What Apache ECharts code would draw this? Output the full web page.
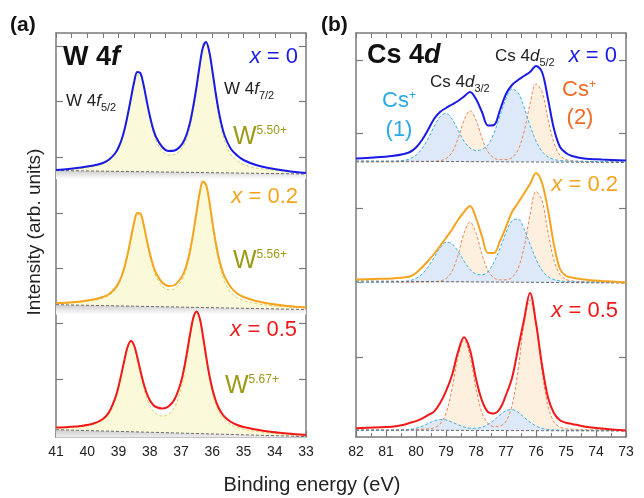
<!DOCTYPE html>
<html><head><meta charset="utf-8">
<script src="https://cdn.jsdelivr.net/npm/echarts@6/dist/echarts.min.js"></script>
<style>html,body{margin:0;padding:0;background:#fff}#c{width:644px;height:498px}</style>
</head><body><div id="c"></div>
<script>
// ---------- W 4f panel (a) ----------
const W4f_energy = [41.0, 40.6, 40.2, 39.8, 39.5, 39.3, 39.1, 39.0, 38.9, 38.8, 38.7, 38.6, 38.5, 38.4, 38.3, 38.2, 38.1, 38.0, 37.9, 37.8, 37.6, 37.4, 37.2, 37.0, 36.9, 36.8, 36.7, 36.6, 36.5, 36.4, 36.3, 36.2, 36.1, 36.0, 35.9, 35.8, 35.7, 35.6, 35.4, 35.2, 35.0, 34.6, 34.2, 33.6, 33.0];
const W4f_x0 = [267, 268, 269.5, 271.5, 274, 277.5, 284, 289.5, 297.5, 308.5, 323, 339, 355, 365, 364, 352.5, 336.5, 321.5, 309, 300, 290, 286, 286.5, 291.5, 296.5, 304.5, 316, 332, 351, 372, 389.5, 395, 386, 367, 346, 327, 312, 301, 288, 281.5, 277, 272, 269, 266, 264];
const W4f_x0_fit = [267, 267.5, 268.5, 270.5, 273, 276.5, 283, 288.5, 296, 306.5, 320.5, 336.5, 352, 362, 361.5, 350, 334, 319, 306, 296.5, 286, 282, 282.5, 287.5, 292.5, 300, 311.5, 327, 346, 370, 388, 394, 385, 365.5, 344, 321.5, 306.5, 295.5, 282, 276, 272.5, 269, 267.5, 265.5, 263.5];
const W4f_x02 = [134, 134.5, 135.5, 137.5, 140, 143, 149, 154, 161, 171, 184, 199.5, 214.5, 224, 223.5, 213, 198, 184, 172.5, 164, 154.5, 151, 152, 159, 165, 174.5, 188, 205.5, 225.5, 244.5, 255.5, 252.5, 237, 216, 196.5, 180.5, 168.5, 160, 149.5, 143.5, 140, 136, 133.5, 131, 129.5];
const W4f_x02_fit = [133.5, 134, 135.1, 136.6, 138.8, 141.6, 147.6, 152.4, 159.6, 169.7, 182.8, 198.2, 213.1, 222.4, 221.7, 211.1, 195.9, 181.5, 169.5, 160.6, 150.7, 147.2, 148.4, 155.3, 161.6, 171.3, 185.0, 202.8, 223.1, 242.7, 254.0, 250.6, 234.8, 213.3, 193.1, 176.7, 164.1, 155.0, 144.4, 139.3, 136.5, 133.5, 131.7, 130.2, 129.2];
const W4f_x05 = [9.5, 10, 11, 13.5, 18, 25, 39.5, 50.5, 64, 78.5, 91, 96, 91.5, 80, 66.5, 54, 44, 37, 32.5, 30, 28.5, 30.5, 38, 55, 69, 86, 104.5, 120, 125.5, 118.5, 101.5, 81.5, 63, 48.5, 37.5, 29.5, 24, 20, 15, 12, 10, 7.5, 5.5, 3.5, 2];
const W4f_x05_fit = [9.35, 9.8, 10.7, 12.9, 16.9, 23.4, 37.3, 48.2, 62.1, 77.3, 90.4, 95.9, 90.7, 77.9, 63.1, 49.5, 39.0, 31.5, 26.4, 23.3, 20.9, 22.8, 30.2, 47.9, 62.3, 80.7, 101.0, 118.4, 125.4, 117.9, 99.9, 79.1, 60.2, 45.2, 34.0, 26.0, 20.5, 16.8, 12.2, 9.7, 7.8, 5.6, 4.2, 2.8, 1.8];
const W4f_bgEnergy = [41, 33];
const W4f_bg_x0 = [266.5, 263];
const W4f_bg_x02 = [132.3, 127.5];
const W4f_bg_x05 = [7.3, 0.5];
const W4f_yTicks = [58, 114, 169, 224, 280, 336, 391];

// ---------- Cs 4d panel (b) ----------
const Cs4d_energy = [82.0, 81.4, 80.8, 80.4, 80.2, 80.0, 79.8, 79.6, 79.4, 79.2, 79.0, 78.8, 78.6, 78.4, 78.2, 78.0, 77.8, 77.6, 77.4, 77.2, 77.0, 76.8, 76.6, 76.4, 76.2, 76.0, 75.8, 75.6, 75.4, 75.2, 75.0, 74.8, 74.4, 73.8, 73.0];
const Cs4d_x0 = [278.5, 279.5, 281, 283, 285, 289.5, 297, 307, 318, 325, 329, 332.5, 336, 340.5, 345, 338, 325, 311.5, 312, 327, 343, 352, 357, 361, 365, 371, 365, 338, 308, 290, 284, 281, 278.5, 277.5, 276.5];
const Cs4d_x0_cs1 = [275.2, 275.4, 275.7, 276.6, 278.3, 281.8, 288.4, 298.2, 310.2, 320.2, 323.6, 318.0, 307.1, 295.8, 289, 286.5, 287.5, 292.3, 304.1, 321.2, 338.4, 348.0, 344.4, 330.0, 311.5, 296.0, 285.6, 280.1, 277.5, 276.5, 276.0, 275.8, 275.6, 275.4, 275.3];
const Cs4d_x0_cs2 = [275, 275, 275, 275.3, 275.3, 275.3, 275.4, 275.5, 275.7, 276.3, 278.3, 284.5, 298.3, 316.6, 326.4, 317.0, 298.8, 285.1, 279.0, 277.3, 277.4, 279.4, 286.9, 304.9, 332.9, 353.0, 345.4, 318.1, 294.0, 281.6, 277.4, 276.2, 275.7, 275.4, 275.3];
const Cs4d_x02 = [157.5, 158, 158.5, 159.5, 160.5, 164, 169.5, 176, 183, 191, 199, 207.5, 217, 225, 231, 219, 200.5, 184, 184, 196, 210, 225, 234, 243.5, 253, 264, 254, 227, 192, 168, 161, 159.5, 157.5, 156, 154.5];
const Cs4d_x02_cs1 = [154.7, 154.8, 155.0, 155.5, 156.4, 158.7, 162.8, 169.9, 179.4, 189.0, 194.7, 193.3, 185.7, 176.0, 167.7, 162.9, 162.2, 165.5, 174.8, 188.7, 204.5, 216.3, 218.0, 208.3, 192.8, 177.9, 166.8, 160.5, 157.4, 156.1, 155.5, 155.3, 155.0, 154.8, 154.7];
const Cs4d_x02_cs2 = [154.5, 154.5, 154.8, 154.8, 154.8, 154.9, 155.0, 155.1, 155.3, 156.0, 158.3, 165.7, 181.9, 203.8, 215.0, 203.9, 182.5, 166.4, 159.2, 157.1, 157.2, 159.6, 168.3, 189.4, 221.9, 245.5, 236.7, 204.8, 176.8, 162.4, 157.6, 156.1, 155.3, 155.0, 154.8];
const Cs4d_x05 = [8.7, 9.5, 10.3, 12.3, 14.1, 15.9, 18.4, 21.9, 25.4, 33.7, 45.8, 61.7, 85, 99.7, 87, 58.2, 36.4, 25, 23.5, 28.5, 42, 59, 88, 117, 144, 114, 72, 39.5, 23.8, 16.7, 14.3, 13.1, 10.6, 8.5, 6.5];
const Cs4d_x05_cs1 = [6.5, 6.6, 6.7, 7.05, 7.6, 8.8, 10.7, 13.4, 16.0, 17.4, 17.1, 14.9, 12.3, 10.1, 8.8, 8.7, 9.8, 12.6, 16.9, 22.2, 26.4, 27.4, 24.8, 19.9, 14.8, 11.0, 8.7, 7.6, 7.05, 6.9, 6.8, 6.7, 6.6, 6.55, 6.5];
const Cs4d_x05_cs2 = [6.9, 7.0, 7.0, 7.3, 7.5, 7.6, 7.8, 8.1, 9.2, 12.8, 23.8, 48.0, 80.5, 97.1, 80.6, 48.3, 24.3, 13.6, 10.5, 11.0, 15.7, 31.5, 66.4, 113.0, 137.0, 112.9, 66.1, 31.0, 14.9, 9.9, 8.2, 7.8, 7.3, 7.1, 6.9];
const Cs4d_bgEnergy = [82, 73];
const Cs4d_bg_x0 = [276, 274.5];
const Cs4d_bg_x02 = [156, 154];
const Cs4d_bg_x05 = [7, 6];
const Cs4d_base = [275, 154.5, 6.5];
const Cs4d_yTicks = [80, 155, 229, 304, 377];

// ---------- styling ----------
const FONT = '"Liberation Sans", Arial, sans-serif';
const AX = '#7a7a7a';
const BLUE = '#1a1ae6', ORANGE = '#f5a41f', RED = '#f01818', OLIVE = '#9c9a17';
const SKY = '#29a9e6', CSORANGE = '#f26a26';

function pairs(xs, ys) { return xs.map((x, i) => [x, ys[i]]); }

const series = [];
function addLine(panel, data, opt) {
  series.push(Object.assign({
    type: 'line', xAxisIndex: panel * 2, yAxisIndex: panel * 2, data,
    symbol: 'none', showSymbol: false, smooth: 0.35, silent: true, animation: false
  }, opt));
}
const grayGrad = { type: 'linear', x: 0, y: 0, x2: 0, y2: 1,
  colorStops: [{ offset: 0, color: '#cdcdcd' }, { offset: 1, color: '#ffffff' }] };

// panel (a)
const wSpectra = [
  [W4f_x0, W4f_x0_fit, W4f_bg_x0, BLUE],
  [W4f_x02, W4f_x02_fit, W4f_bg_x02, ORANGE],
  [W4f_x05, W4f_x05_fit, W4f_bg_x05, RED]
];
wSpectra.forEach(s => addLine(0, pairs(W4f_energy, s[1]), {
  lineStyle: { color: '#d8d060', width: 1, type: [3, 2] },
  areaStyle: { color: '#fafadb', opacity: 1, origin: s[2][1] }
}));
wSpectra.forEach(s => addLine(0, pairs(W4f_bgEnergy, s[2]), {
  smooth: false, lineStyle: { color: '#6a6a6a', width: 1, type: [3, 2] },
  areaStyle: { color: grayGrad, opacity: 1, origin: s[2][1] - 5 }
}));
wSpectra.forEach(s => addLine(0, pairs(W4f_energy, s[0]), {
  lineStyle: { color: s[3], width: 2 }
}));

// panel (b)
const cSpectra = [
  [Cs4d_x0, Cs4d_x0_cs1, Cs4d_x0_cs2, Cs4d_bg_x0, BLUE, Cs4d_base[0]],
  [Cs4d_x02, Cs4d_x02_cs1, Cs4d_x02_cs2, Cs4d_bg_x02, ORANGE, Cs4d_base[1]],
  [Cs4d_x05, Cs4d_x05_cs1, Cs4d_x05_cs2, Cs4d_bg_x05, RED, Cs4d_base[2]]
];
cSpectra.forEach(s => addLine(1, pairs(Cs4d_energy, s[2]), {
  lineStyle: { color: '#ef8550', width: 1, type: [3, 2] },
  areaStyle: { color: '#fdf0df', opacity: 1, origin: s[5] }
}));
cSpectra.forEach(s => addLine(1, pairs(Cs4d_energy, s[1]), {
  lineStyle: { color: '#3cb0e8', width: 1, type: [3, 2] },
  areaStyle: { color: '#dde9f8', opacity: 1, origin: s[5] }
}));
cSpectra.forEach(s => addLine(1, pairs(Cs4d_bgEnergy, s[3]), {
  smooth: false, lineStyle: { color: '#6a6a6a', width: 1, type: [3, 2] }
}));
cSpectra.forEach(s => addLine(1, pairs(Cs4d_energy, s[0]), {
  lineStyle: { color: s[4], width: 2 }
}));

function xBottom(grid, min, max) {
  return { gridIndex: grid, type: 'value', min, max, inverse: true, interval: 1, position: 'bottom',
    axisLine: { show: true, onZero: false, lineStyle: { color: AX, width: 1.5 } },
    axisTick: { show: true, inside: true, length: 6, lineStyle: { color: AX, width: 1.2 } },
    minorTick: { show: true, splitNumber: 2, length: 4, lineStyle: { color: AX, width: 1 } },
    axisLabel: { show: true, color: '#222', fontSize: 14, fontFamily: FONT, margin: 8, showMinLabel: true, showMaxLabel: true },
    splitLine: { show: false }, minorSplitLine: { show: false } };
}
function xTop(grid, min, max) {
  return { gridIndex: grid, type: 'value', min, max, inverse: true, interval: 0.5, position: 'top',
    axisLine: { show: true, onZero: false, lineStyle: { color: AX, width: 1.5 } },
    axisTick: { show: true, inside: true, length: 5, lineStyle: { color: AX, width: 1 } },
    axisLabel: { show: false }, splitLine: { show: false } };
}
function yAx(grid, pos, ticks) {
  return { gridIndex: grid, type: 'value', min: 0, max: 404, position: pos,
    axisLine: { show: true, onZero: false, lineStyle: { color: AX, width: 1.5 } },
    axisTick: { show: true, inside: true, length: 7, customValues: ticks, lineStyle: { color: AX, width: 1.2 } },
    axisLabel: { show: false }, splitLine: { show: false } };
}

function T(x, y, text, rich, align, extra) {
  return Object.assign({ type: 'text', x, y, silent: true,
    style: { text, rich, align: align || 'left', verticalAlign: 'middle', textAlign: align || 'left', textVerticalAlign: 'middle' } }, extra || {});
}
function plain(size, color, weight, style) {
  return { fontSize: size, fontFamily: FONT, fill: color, fontWeight: weight || 'normal', fontStyle: style || 'normal' };
}
function richSub(color) {
  return {
    n: Object.assign(plain(17, color), { lineHeight: 24 }),
    i: Object.assign(plain(17, color, 'normal', 'italic'), { lineHeight: 24 }),
    s: Object.assign(plain(11, color), { lineHeight: 11, verticalAlign: 'bottom' })
  };
}
function richSup(color, big) {
  return {
    m: Object.assign(plain(big, color), { lineHeight: big }),
    p: Object.assign(plain(12, color), { lineHeight: 12, verticalAlign: 'top' })
  };
}
function richX(color) {
  return {
    i: Object.assign(plain(22, color, 'normal', 'italic'), { lineHeight: 24 }),
    n: Object.assign(plain(22, color), { lineHeight: 24 })
  };
}
const richBold = {
  b: Object.assign(plain(27, '#111', 'bold'), { lineHeight: 30 }),
  bi: Object.assign(plain(27, '#111', 'bold', 'italic'), { lineHeight: 30 })
};
const richPanel = { b: Object.assign(plain(21, '#111', 'bold'), { lineHeight: 24 }) };
const richPlain = (size, color) => ({ n: Object.assign(plain(size, color), { lineHeight: size + 2 }) });

const graphic = [
  T(10, 25, '{b|(a)}', richPanel),
  T(321, 25, '{b|(b)}', richPanel),
  T(63, 58, '{b|W 4}{bi|f}', richBold),
  T(298, 57, '{i|x}{n| = 0}', richX(BLUE), 'right'),
  T(66, 101, '{n|W 4}{i|f}{s|5/2}', richSub('#222')),
  T(224, 89, '{n|W 4}{i|f}{s|7/2}', richSub('#222')),
  T(233, 137, '{m|W}{p|5.50+}', richSup(OLIVE, 25)),
  T(298, 197, '{i|x}{n| = 0.2}', richX(ORANGE), 'right'),
  T(233, 261, '{m|W}{p|5.56+}', richSup(OLIVE, 25)),
  T(297, 330, '{i|x}{n| = 0.5}', richX(RED), 'right'),
  T(225, 386, '{m|W}{p|5.67+}', richSup(OLIVE, 25)),
  T(367, 56, '{b|Cs 4}{bi|d}', richBold),
  T(495, 56, '{n|Cs 4}{i|d}{s|5/2}', richSub('#222')),
  T(617, 56, '{i|x}{n| = 0}', richX(BLUE), 'right'),
  T(430, 82, '{n|Cs 4}{i|d}{s|3/2}', richSub('#222')),
  T(382, 101, '{m|Cs}{p|+}', richSup(SKY, 22)),
  T(399, 130, '{n|(1)}', richPlain(22, SKY), 'center'),
  T(562, 90, '{m|Cs}{p|+}', richSup(CSORANGE, 22)),
  T(580, 118, '{n|(2)}', richPlain(22, CSORANGE), 'center'),
  T(618, 185, '{i|x}{n| = 0.2}', richX(ORANGE), 'right'),
  T(618, 311, '{i|x}{n| = 0.5}', richX(RED), 'right'),
  T(35, 232, '{n|Intensity (arb. units)}', richPlain(19, '#222'), 'center', { rotation: Math.PI / 2 }),
  T(312, 485, '{n|Binding energy (eV)}', richPlain(20, '#222'), 'center')
];

const option = {
  animation: false,
  backgroundColor: '#ffffff',
  grid: [
    { left: 56, top: 33, width: 250, height: 404 },
    { left: 356, top: 33, width: 270, height: 404 }
  ],
  xAxis: [xBottom(0, 33, 41), xTop(0, 33, 41), xBottom(1, 73, 82), xTop(1, 73, 82)],
  yAxis: [yAx(0, 'left', W4f_yTicks), yAx(0, 'right', W4f_yTicks), yAx(1, 'left', Cs4d_yTicks), yAx(1, 'right', Cs4d_yTicks)],
  series,
  graphic
};
const chart = echarts.init(document.getElementById('c'), null, { renderer: 'canvas' });
chart.setOption(option);
</script></body></html>
